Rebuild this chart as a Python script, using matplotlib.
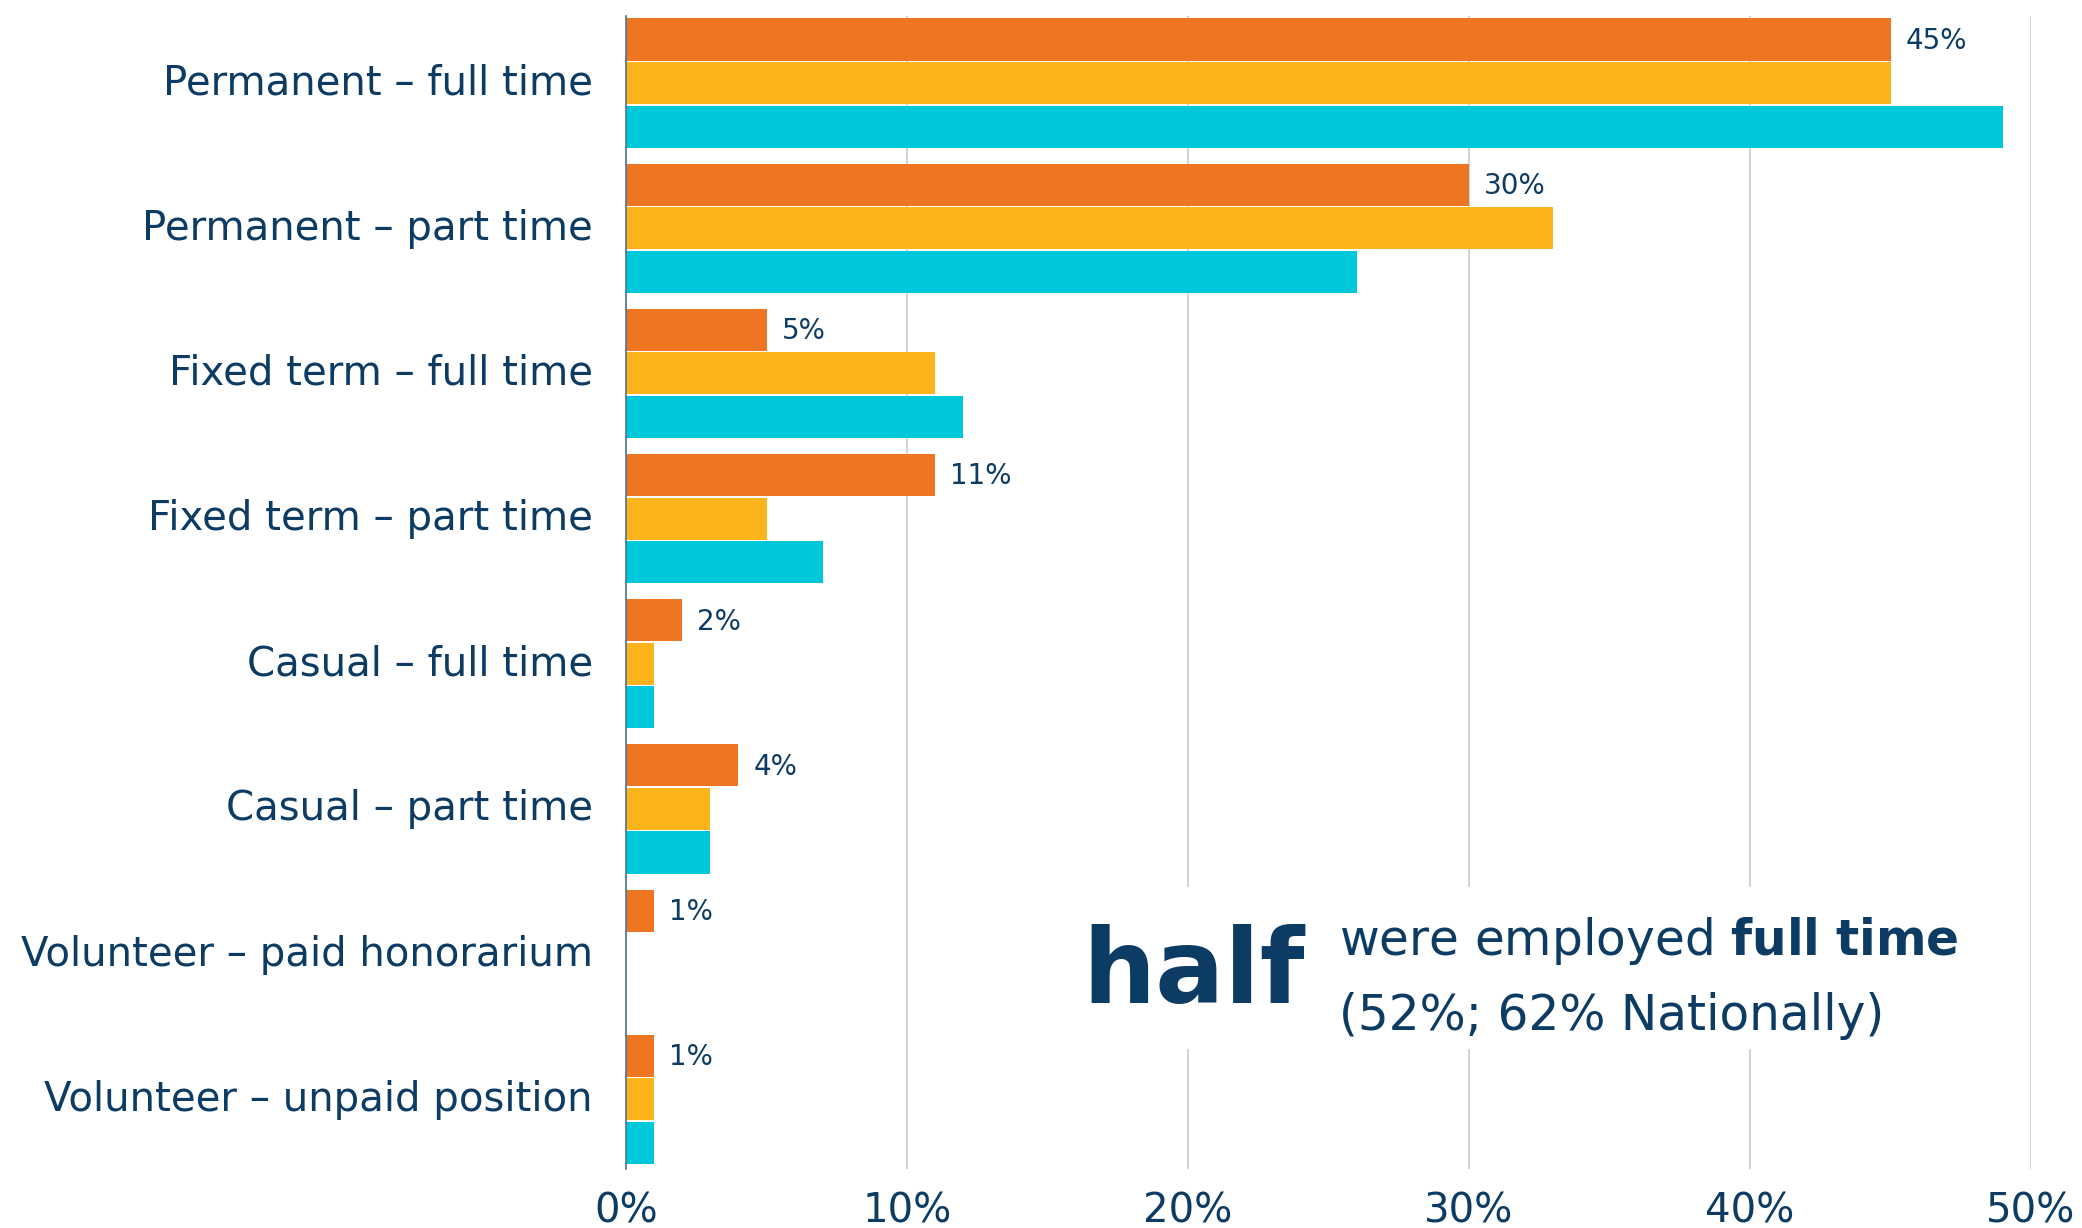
import matplotlib
matplotlib.use("Agg")
import matplotlib.pyplot as plt
import numpy as np
from matplotlib.patches import Rectangle
from matplotlib.transforms import ScaledTranslation

# employment type shares (%), three series per category
categories = [
    "Permanent \u2013 full time",
    "Permanent \u2013 part time",
    "Fixed term \u2013 full time",
    "Fixed term \u2013 part time",
    "Casual \u2013 full time",
    "Casual \u2013 part time",
    "Volunteer \u2013 paid honorarium",
    "Volunteer \u2013 unpaid position",
]
orange_vals = [45, 30, 5, 11, 2, 4, 1, 1]
yellow_vals = [45, 33, 11, 5, 1, 3, 0, 1]
cyan_vals = [49, 26, 12, 7, 1, 3, 0, 1]
x_ticks = [0, 10, 20, 30, 40, 50]
x_tick_labels = ["0%", "10%", "20%", "30%", "40%", "50%"]

navy = "#0C3B63"
colors = ["#EE7623", "#FBB51B", "#00C8DB"]

fig = plt.figure(figsize=(20.82, 12.28), dpi=100)
ax = fig.add_axes([626 / 2082, 0.048, (2031 - 626) / 2082, 0.987 - 0.048])

y = np.arange(len(categories))
step = 0.3
barh = 0.29
for i, (vals, col) in enumerate(zip([orange_vals, yellow_vals, cyan_vals], colors)):
    ax.barh(y + (i - 1) * step, vals, height=barh, color=col, zorder=2)

# value labels only on the orange series
for yi, v in zip(y, orange_vals):
    ax.annotate(f"{v}%", xy=(v, yi - step), xytext=(11, -1), textcoords="offset points",
                va="center", ha="left", fontsize=20, color=navy)

ax.set_xlim(0, 50)
ax.set_ylim(7.48, -0.462)
ax.set_xticks(x_ticks)
ax.set_xticklabels(x_tick_labels)
ax.set_yticks(y)
ax.set_yticklabels(categories)
ax.tick_params(axis="both", length=0, labelsize=29, labelcolor=navy)
ax.tick_params(axis="y", pad=24)
ax.tick_params(axis="x", pad=16)

# nudge category labels up a touch
for lbl in ax.get_yticklabels():
    lbl.set_transform(lbl.get_transform() + ScaledTranslation(0, 3 / 72, fig.dpi_scale_trans))

ax.set_axisbelow(True)
ax.grid(axis="x", color="#C9D4DE", linewidth=1.4)
for s in ["top", "right", "bottom"]:
    ax.spines[s].set_visible(False)
ax.spines["left"].set_color("#4D7394")
ax.spines["left"].set_linewidth(1.2)

# callout box
box = Rectangle((0.510, 0.146), 0.447, 0.132, transform=fig.transFigure,
                facecolor="white", edgecolor="none", zorder=1)
fig.add_artist(box)
fig.text(1082 / 2082, 1 - 1003 / 1228, "half", fontsize=74, fontweight="bold",
         color=navy, va="baseline", ha="left", zorder=3)
fig.text(1339 / 2082, 1 - 955 / 1228, r"were employed $\mathbf{full\ time}$", fontsize=35,
         color=navy, va="baseline", ha="left", zorder=3)
fig.text(1339 / 2082, 1 - 1030 / 1228, "(52%; 62% Nationally)", fontsize=35,
         color=navy, va="baseline", ha="left", zorder=3)

fig.savefig("out.png", dpi=100, facecolor="white")
